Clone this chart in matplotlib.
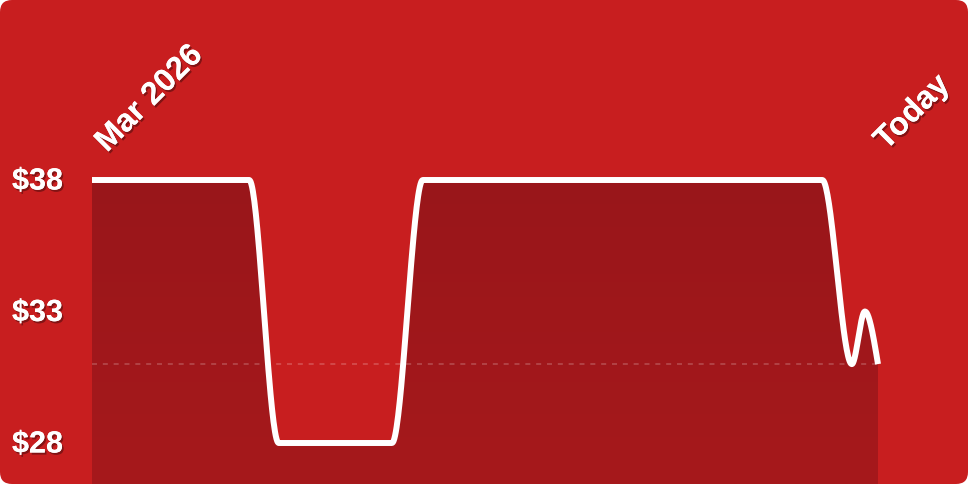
import numpy as np
import matplotlib
matplotlib.use("Agg")
import matplotlib.pyplot as plt
import matplotlib.patheffects as pe
from matplotlib.patches import FancyBboxPatch, Polygon
from matplotlib.transforms import IdentityTransform, blended_transform_factory, offset_copy

# --- datos (días desde el inicio, precio en $) ---
dias = [0, 24, 28.5, 45.8, 50.5, 111.5, 116, 118, 120]
precios = [38, 38, 28, 28, 38, 38, 31, 33, 31]
precio_ref = 31
etiquetas_y = [38, 33, 28]
etiqueta_inicio = "Mar 2026"
etiqueta_fin = "Today"

ROJO = "#c81e1f"
OSCURO_ARRIBA = "#99161a"
OSCURO_ABAJO = "#a6191c"


def monotone_x(x, y, n=40):
    # curva monótona tipo d3.curveMonotoneX
    x = np.asarray(x, float)
    y = np.asarray(y, float)
    h = np.diff(x)
    s = np.diff(y) / h
    t = np.zeros_like(y)
    for i in range(1, len(x) - 1):
        p = (s[i - 1] * h[i] + s[i] * h[i - 1]) / (h[i - 1] + h[i])
        t[i] = (np.sign(s[i - 1]) + np.sign(s[i])) * min(abs(s[i - 1]), abs(s[i]), 0.5 * abs(p))
    t[0] = (3 * s[0] - t[1]) / 2 if len(x) > 2 else s[0]
    t[-1] = (3 * s[-1] - t[-2]) / 2 if len(x) > 2 else s[-1]
    xs, ys = [], []
    for i in range(len(h)):
        u = np.linspace(0, 1, n, endpoint=(i == len(h) - 1))
        h00 = 2 * u**3 - 3 * u**2 + 1
        h10 = u**3 - 2 * u**2 + u
        h01 = -2 * u**3 + 3 * u**2
        h11 = u**3 - u**2
        xs.append(x[i] + u * h[i])
        ys.append(h00 * y[i] + h10 * h[i] * t[i] + h01 * y[i + 1] + h11 * h[i] * t[i + 1])
    return np.concatenate(xs), np.concatenate(ys)


W, H = 968, 484
fig = plt.figure(figsize=(W / 100, H / 100), dpi=100)
fig.patch.set_facecolor("white")
fondo = FancyBboxPatch((0, 0), W, H, boxstyle="round,pad=0,rounding_size=12",
                       transform=IdentityTransform(), facecolor=ROJO, edgecolor="none", zorder=-1)
fig.patches.append(fondo)

ax = fig.add_axes([0, 0, 1, 1])
ax.patch.set_alpha(0)
ax.axis("off")

# escala: dia 0 -> px 92, dia 120 -> px 878 ; $38 -> y 180, $28 -> y 443
px_dia = (878 - 92) / (dias[-1] - dias[0])
xlim = (dias[0] - 92 / px_dia, dias[-1] + (W - 878) / px_dia)
px_dolar = (443 - 180) / 10
ylim = (38 - (H - 180) / px_dolar, 38 + 180 / px_dolar)
y0 = ylim[0]

xc, yc = monotone_x(dias, precios)

# relleno con degradado
verts = np.column_stack([np.r_[xc, xc[-1], xc[0]], np.r_[yc, y0, y0]])
poly = Polygon(verts, closed=True, facecolor="none", edgecolor="none", transform=ax.transData)
ax.add_patch(poly)
grad = np.linspace(0, 1, 256).reshape(-1, 1)
cmap = matplotlib.colors.LinearSegmentedColormap.from_list("g", [OSCURO_ARRIBA, OSCURO_ABAJO])
im = ax.imshow(grad, cmap=cmap, aspect="auto", extent=[xc[0], xc[-1], y0, 38],
               origin="upper", zorder=1, interpolation="bilinear")
im.set_clip_path(poly)
ax.set_xlim(*xlim)
ax.set_ylim(*ylim)

# línea de referencia
ax.plot([dias[0], dias[-1]], [precio_ref, precio_ref], color=(1, 1, 1, 0.22),
        linewidth=1.2, dashes=(3, 3.5), zorder=2)

# línea de precio
ax.plot(xc, yc, color="white", linewidth=4.3, solid_capstyle="butt",
        solid_joinstyle="round", zorder=3)

sombra = [pe.withSimplePatchShadow(offset=(1.2, -1.5), shadow_rgbFace="black", alpha=0.35), pe.Normal()]
fuente = dict(family=["Liberation Sans", "DejaVu Sans"], weight="bold", color="white")

trans_y = offset_copy(blended_transform_factory(ax.transAxes, ax.transData),
                      fig=fig, x=0, y=-1.5, units="dots")
for v in etiquetas_y:
    ax.text(12 / W, v, f"${v}", transform=trans_y, ha="left", va="center",
            fontsize=22, path_effects=sombra, zorder=4, **fuente)

trans_px = IdentityTransform()
ax.text(107, H - 153, etiqueta_inicio, transform=trans_px, rotation=45,
        rotation_mode="anchor", ha="left", va="baseline", fontsize=23,
        path_effects=sombra, zorder=4, **fuente)
ax.text(886, H - 151, etiqueta_fin, transform=trans_px, rotation=45,
        rotation_mode="anchor", ha="left", va="baseline", fontsize=23,
        path_effects=sombra, zorder=4, **fuente)

fig.savefig("out.png", dpi=100, facecolor=fig.get_facecolor())
